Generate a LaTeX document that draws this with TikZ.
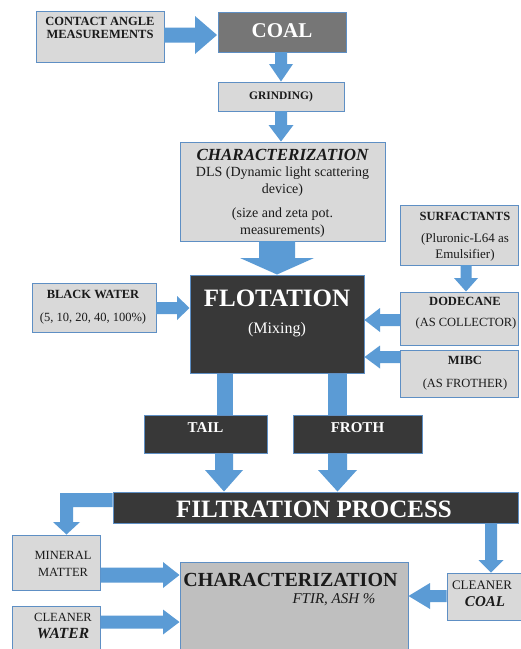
\documentclass[tikz,border=0pt]{standalone}
\usepackage{fontspec}
\setmainfont{Liberation Serif}
\definecolor{arrowblue}{HTML}{5B9BD5}
\definecolor{edgeblue}{HTML}{5E8FC4}
\definecolor{lightbox}{HTML}{D9D9D9}
\definecolor{midbox}{HTML}{BFBFBF}
\definecolor{darkbox}{HTML}{383838}
\definecolor{coalbox}{HTML}{767676}
\definecolor{ink}{HTML}{1A1A1A}
\newcommand\dnarrow[6]{% xc, y0, y1, y2, shaft half, head half
  \fill[arrowblue] ({#1-#5},#2) -- ({#1+#5},#2) -- ({#1+#5},#3) -- ({#1+#6},#3) -- (#1,#4) -- ({#1-#6},#3) -- ({#1-#5},#3) -- cycle;}
\newcommand\harrow[6]{% yc, x0, x1, x2, shaft half, head half
  \fill[arrowblue] (#2,{#1-#5}) -- (#2,{#1+#5}) -- (#3,{#1+#5}) -- (#3,{#1+#6}) -- (#4,#1) -- (#3,{#1-#6}) -- (#3,{#1-#5}) -- cycle;}
\newcommand\fs[1]{\fontsize{#1}{#1}\selectfont}
\begin{document}
\begin{tikzpicture}[x=1pt,y=-1pt,
  lbox/.style={draw=edgeblue,line width=0.9pt,fill=lightbox,inner sep=0pt,outer sep=0pt},
  mbox/.style={draw=edgeblue,line width=0.9pt,fill=midbox,inner sep=0pt,outer sep=0pt},
  dbox/.style={draw=edgeblue,line width=0.9pt,fill=darkbox,inner sep=0pt,outer sep=0pt},
  cbox/.style={draw=edgeblue,line width=0.9pt,fill=coalbox,inner sep=0pt,outer sep=0pt},
  txt/.style={inner sep=0pt,align=center,text=ink},
  wtxt/.style={inner sep=0pt,align=center,text=white},
]
\useasboundingbox (0,0) rectangle (521,649);
\fill[white] (0,0) rectangle (521,649);
% boxes
\node[lbox,minimum width=128pt,minimum height=51pt] (contact) at (100,36.5) {};
\node[cbox,minimum width=128pt,minimum height=40pt] (coal) at (282,32) {};
\node[lbox,minimum width=126pt,minimum height=29pt] (grind) at (281,96.5) {};
\node[lbox,minimum width=205pt,minimum height=99pt] (char1) at (282.5,191.5) {};
\node[dbox,minimum width=174pt,minimum height=98pt] (flot) at (277,324) {};
\node[lbox,minimum width=124pt,minimum height=49pt] (bw) at (94,307.5) {};
\node[lbox,minimum width=118pt,minimum height=60pt] (surf) at (459,235) {};
\node[lbox,minimum width=118pt,minimum height=53pt] (dodec) at (459,318.5) {};
\node[lbox,minimum width=118pt,minimum height=47pt] (mibc) at (459,373.5) {};
\node[dbox,minimum width=123pt,minimum height=38pt] (tail) at (205.5,434) {};
\node[dbox,minimum width=129pt,minimum height=38pt] (froth) at (357.5,434) {};
\node[dbox,minimum width=405pt,minimum height=31pt] (filt) at (315.5,507.5) {};
\node[lbox,minimum width=88pt,minimum height=55pt] (mineral) at (56,562.5) {};
\node[lbox,minimum width=88pt,minimum height=50pt] (cwater) at (56,631) {};
\node[mbox,minimum width=228pt,minimum height=95pt] (char2) at (294,609.5) {};
\node[lbox,minimum width=80pt,minimum height=47pt] (ccoal) at (487,596.5) {};
% arrows
\harrow{35}{164}{195}{217}{7.5}{19}
\dnarrow{281}{52}{64}{81.5}{6}{12}
\dnarrow{281}{111}{125}{141.5}{6}{12.5}
\dnarrow{277}{241}{258}{274.5}{18}{37}
\harrow{308}{156}{177}{189.5}{6}{12}
\dnarrow{466}{265}{278}{291.5}{5.5}{12}
\harrow{320}{400}{380}{364.5}{6}{12}
\harrow{357}{400}{380}{364.5}{6}{11.5}
\fill[arrowblue] (217,373.5) rectangle (233,414.5);
\fill[arrowblue] (328,373.5) rectangle (347,414.5);
\dnarrow{224}{453.5}{470}{491.5}{9}{19}
\dnarrow{337.5}{453.5}{470}{491.5}{9.5}{19.5}
\fill[arrowblue] (112.5,493) -- (60,493) -- (60,522) -- (53,522) -- (66.5,534.5) -- (80,522) -- (73,522) -- (73,507) -- (112.5,507) -- cycle;
\dnarrow{491}{523.5}{560}{572.5}{6}{12.5}
\harrow{575}{100.5}{163}{179.5}{7.5}{13}
\harrow{622}{100.5}{163}{179.5}{6.5}{12.5}
\harrow{596}{446.5}{430}{408.5}{6}{13}
% texts
\node[txt,font=\fs{12.5}\bfseries] (tcontact) at (100,28) {CONTACT ANGLE\\[1pt]MEASUREMENTS};
\node[wtxt,font=\fs{21}\bfseries] (tcoal) at (282,31) {COAL};
\node[txt,font=\fs{11.5}\bfseries] (tgrind) at (281,97) {GRINDING)};
\node[txt,font=\fs{17}\bfseries\itshape] (tchar1) at (282.5,155) {CHARACTERIZATION};
\node[txt,font=\fs{14}] (tdls) at (282.5,173) {DLS (Dynamic light scattering};
\node[txt,font=\fs{14}] (tdev) at (282.5,190) {device)};
\node[txt,font=\fs{14}] (tsize) at (282.5,214) {(size and zeta pot.};
\node[txt,font=\fs{14}] (tmeas) at (282.5,231) {measurements)};
\node[wtxt,font=\fs{25}\bfseries] (tflot) at (277,298) {FLOTATION};
\node[wtxt,font=\fs{16}] (tmix) at (277,330) {(Mixing)};
\node[txt,font=\fs{12.5}\bfseries] (tbw) at (93,294) {BLACK WATER};
\node[txt,font=\fs{12.5}] (tbwp) at (93,318) {(5, 10, 20, 40, 100\%)};
\node[txt,font=\fs{12.5}\bfseries] (tsurf) at (465,216) {SURFACTANTS};
\node[txt,font=\fs{13}] (tplu) at (465,239) {(Pluronic-L64 as};
\node[txt,font=\fs{13}] (temu) at (465,255) {Emulsifier)};
\node[txt,font=\fs{12.5}\bfseries] (tdod) at (465,301) {DODECANE};
\node[txt,font=\fs{12.5}] (tcoll) at (466,323) {(AS COLLECTOR)};
\node[txt,font=\fs{12.5}\bfseries] (tmibc) at (465,360) {MIBC};
\node[txt,font=\fs{12.5}] (tfro) at (465,384) {(AS FROTHER)};
\node[wtxt,font=\fs{15}\bfseries] (ttail) at (205.5,428) {TAIL};
\node[wtxt,font=\fs{15}\bfseries] (tfroth) at (357.5,428) {FROTH};
\node[wtxt,font=\fs{25}\bfseries] (tfilt) at (314,509) {FILTRATION PROCESS};
\node[txt,font=\fs{12.5}] (tmin) at (63,555) {MINERAL};
\node[txt,font=\fs{12.5}] (tmat) at (63,572) {MATTER};
\node[txt,font=\fs{12.5}] (tcw1) at (63,617) {CLEANER};
\node[txt,font=\fs{15.5}\bfseries\itshape] (tcw2) at (63,633) {WATER};
\node[txt,font=\fs{20}\bfseries] (tchar2) at (290.5,580) {CHARACTERIZATION};
\node[txt,font=\fs{15}\itshape] (tftir) at (334,600) {FTIR, ASH \%};
\node[txt,font=\fs{13}] (tcc1) at (482,585) {CLEANER};
\node[txt,font=\fs{15}\bfseries\itshape] (tcc2) at (485,602) {COAL};
\end{tikzpicture}
\end{document}
